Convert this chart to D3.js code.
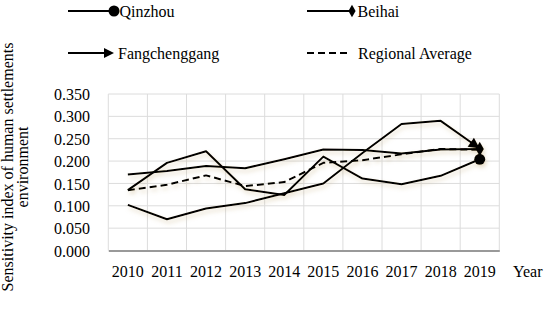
<!DOCTYPE html>
<html>
<head>
<meta charset="utf-8">
<script src="https://cdn.jsdelivr.net/npm/d3@7"></script>
<style>
  html, body { margin: 0; padding: 0; background: #fff; }
  svg { display: block; }
  svg text { font-family: "Liberation Serif", "Times New Roman", serif; }
</style>
</head>
<body>
<svg id="chart" width="550" height="310"></svg>
<script>
const years = ["2010","2011","2012","2013","2014","2015","2016","2017","2018","2019"];
const qinzhou = [0.135, 0.196, 0.222, 0.137, 0.124, 0.210, 0.161, 0.148, 0.167, 0.204];
const beihai = [0.170, 0.178, 0.189, 0.184, 0.204, 0.226, 0.225, 0.217, 0.226, 0.227];
const fangchenggang = [0.102, 0.070, 0.094, 0.106, 0.128, 0.150, 0.218, 0.283, 0.290, 0.228];
const regionalAverage = [0.135, 0.147, 0.168, 0.144, 0.153, 0.196, 0.202, 0.215, 0.227, 0.225];
const yTicks = [0, 0.05, 0.10, 0.15, 0.20, 0.25, 0.30, 0.35];
const seriesNames = ["Qinzhou", "Beihai", "Fangchenggang", "Regional Average"];

const FONT = "Liberation Serif";
const svg = d3.select("#chart");
const pLeft = 108.3, pRight = 499.3, pTop = 94, pBottom = 250.5;

const x = d3.scaleBand().domain(years).range([pLeft, pRight]);
const y = d3.scaleLinear().domain([0, 0.35]).range([pBottom, pTop]);

// shadow filter
const defs = svg.append("defs");
const f = defs.append("filter").attr("id", "shadow").attr("x", "-10%").attr("y", "-20%").attr("width", "120%").attr("height", "160%");
f.append("feDropShadow").attr("dx", 1.5).attr("dy", 3).attr("stdDeviation", 2)
  .attr("flood-color", "#b89e62").attr("flood-opacity", 0.35);

// gridlines
const grid = svg.append("g");
grid.selectAll("line.h").data(yTicks.slice(1)).join("line")
  .attr("x1", pLeft).attr("x2", pRight)
  .attr("y1", d => y(d)).attr("y2", d => y(d))
  .attr("stroke", "#dcdcdc").attr("stroke-width", 1);
const bounds = years.map(d => x(d)).concat([pRight]);
grid.selectAll("line.v").data(bounds).join("line")
  .attr("x1", d => d).attr("x2", d => d)
  .attr("y1", pTop).attr("y2", pBottom)
  .attr("stroke", "#dcdcdc").attr("stroke-width", 1);

// y axis (labels only)
const yAxis = d3.axisLeft(y).tickValues(yTicks).tickFormat(d3.format(".3f")).tickSize(0).tickPadding(0);
const gy = svg.append("g").attr("transform", `translate(90,0)`).call(yAxis)
  .attr("font-family", FONT).attr("font-size", 16);
gy.select(".domain").remove();
gy.selectAll("text").attr("font-size", 16).attr("font-family", FONT).attr("fill", "#000").attr("dy", "0.35em");

// x axis
const xAxis = d3.axisBottom(x).tickSize(0).tickPadding(0);
const gx = svg.append("g").attr("transform", `translate(0,${pBottom})`).call(xAxis)
  .attr("font-family", FONT).attr("font-size", 16);
gx.select(".domain").attr("stroke", "#999").attr("stroke-width", 1.8);
gx.selectAll("text").attr("font-size", 16).attr("font-family", FONT).attr("fill", "#000").attr("y", 26.5).attr("dy", 0);

svg.append("text").attr("x", 513).attr("y", 277).attr("font-size", 16).attr("font-family", FONT).text("Year");

// y title
const yt = svg.append("text").attr("transform", "translate(0,167) rotate(-90)")
  .attr("text-anchor", "middle").attr("font-size", 16).attr("font-family", FONT);
yt.append("tspan").attr("x", 0).attr("y", 13).text("Sensitivity index of human settlements");
yt.append("tspan").attr("x", 0).attr("y", 27.5).text("environment");

// lines
const line = d3.line().x((d, i) => x(years[i]) + x.bandwidth() / 2).y(d => y(d));
const lines = svg.append("g").attr("filter", "url(#shadow)");
const series = [
  {name: "Qinzhou", values: qinzhou, dash: null},
  {name: "Beihai", values: beihai, dash: null},
  {name: "Fangchenggang", values: fangchenggang, dash: null},
  {name: "Regional Average", values: regionalAverage, dash: "7,4"}
];
lines.selectAll("path.s").data(series).join("path")
  .attr("d", d => line(d.values))
  .attr("fill", "none").attr("stroke", "#000").attr("stroke-width", 2)
  .attr("stroke-linejoin", "round")
  .attr("stroke-dasharray", d => d.dash);

// end markers
const px = i => x(years[i]) + x.bandwidth() / 2;
const last = years.length - 1;
// Beihai diamond
lines.append("path").attr("d", d3.symbol(d3.symbolDiamond, 60)())
  .attr("transform", `translate(${px(last)},${y(beihai[last])})`).attr("fill", "#000");
// Qinzhou circle
lines.append("circle").attr("cx", px(last)).attr("cy", y(qinzhou[last])).attr("r", 5.5).attr("fill", "#000");
// Fangchenggang arrow
{
  const x0 = px(last - 1), y0 = y(fangchenggang[last - 1]);
  const x1 = px(last), y1 = y(fangchenggang[last]);
  const ang = Math.atan2(y1 - y0, x1 - x0) * 180 / Math.PI;
  lines.append("path").attr("d", "M0,0 L-11,-5.5 L-11,5.5 Z")
    .attr("transform", `translate(${x1},${y1}) rotate(${ang})`).attr("fill", "#000");
}

// legend
const lg = svg.append("g").attr("font-size", 16).attr("font-family", FONT);
// Qinzhou
lg.append("line").attr("x1", 68).attr("x2", 112).attr("y1", 11).attr("y2", 11).attr("stroke", "#000").attr("stroke-width", 1.8);
lg.append("circle").attr("cx", 114).attr("cy", 11).attr("r", 5.5).attr("fill", "#000");
lg.append("text").attr("x", 119.5).attr("y", 16.5).attr("font-family", FONT).text(seriesNames[0]);
// Beihai
lg.append("line").attr("x1", 307).attr("x2", 350).attr("y1", 11).attr("y2", 11).attr("stroke", "#000").attr("stroke-width", 1.8);
lg.append("path").attr("d", d3.symbol(d3.symbolDiamond, 45)()).attr("transform", "translate(352,11)").attr("fill", "#000");
lg.append("text").attr("x", 357.5).attr("y", 16.5).attr("font-family", FONT).text(seriesNames[1]);
// Fangchenggang
lg.append("line").attr("x1", 68).attr("x2", 106).attr("y1", 53).attr("y2", 53).attr("stroke", "#000").attr("stroke-width", 1.8);
lg.append("path").attr("d", "M0,0 L-10,-5 L-10,5 Z").attr("transform", "translate(114,53)").attr("fill", "#000");
lg.append("text").attr("x", 118).attr("y", 58.5).attr("font-family", FONT).text(seriesNames[2]);
// Regional Average
lg.append("line").attr("x1", 307).attr("x2", 349).attr("y1", 53).attr("y2", 53).attr("stroke", "#000").attr("stroke-width", 1.8).attr("stroke-dasharray", "7,4");
lg.append("text").attr("x", 358).attr("y", 58.5).attr("font-family", FONT).text(seriesNames[3]);
</script>
</body>
</html>
